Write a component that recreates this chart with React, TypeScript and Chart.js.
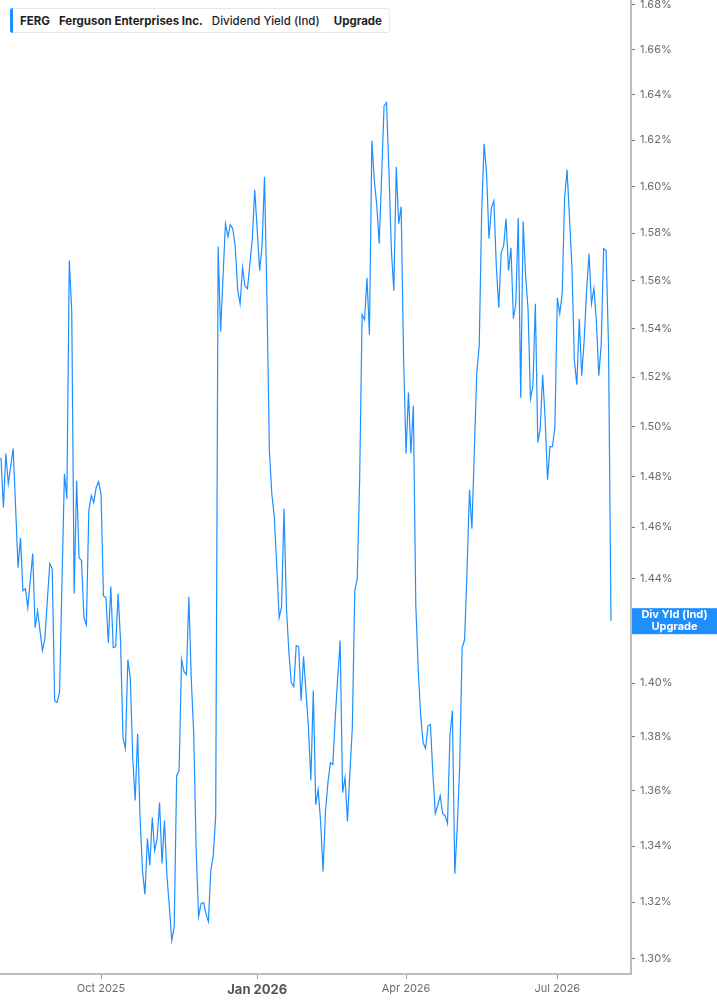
import React, { useEffect, useRef } from 'react';
import { Chart, registerables } from 'chart.js';

Chart.register(...registerables);

// Ferguson Enterprises (FERG) – Dividend Yield (Ind), in %, one value per trading day
const yieldValues: number[] = [
  1.4874, 1.4676, 1.4891, 1.4771, 1.4842, 1.4911, 1.4676, 1.4441, 1.4558, 1.4352,
  1.4360, 1.4287, 1.4391, 1.4496, 1.4210, 1.4275, 1.4198, 1.4123, 1.4168, 1.4314,
  1.4457, 1.4437, 1.3934, 1.3927, 1.3964, 1.4383, 1.4810, 1.4712, 1.5684, 1.5474,
  1.4341, 1.4783, 1.4480, 1.4469, 1.4248, 1.4221, 1.4664, 1.4724, 1.4696, 1.4755,
  1.4779, 1.4731, 1.4333, 1.4325, 1.4153, 1.4368, 1.4134, 1.4138, 1.4341, 1.4161,
  1.3796, 1.3756, 1.4089, 1.4020, 1.3723, 1.3565, 1.3811, 1.3503, 1.3312, 1.3227,
  1.3427, 1.3330, 1.3503, 1.3384, 1.3427, 1.3558, 1.3337, 1.3492, 1.3294, 1.3184,
  1.3064, 1.3113, 1.3656, 1.3675, 1.4089, 1.4043, 1.4032, 1.4329, 1.4013, 1.3808,
  1.3384, 1.3149, 1.3194, 1.3198, 1.3159, 1.3131, 1.3312, 1.3366, 1.3510, 1.5743,
  1.5387, 1.5616, 1.5840, 1.5785, 1.5836, 1.5819, 1.5743, 1.5562, 1.5503, 1.5654,
  1.5578, 1.5566, 1.5667, 1.5776, 1.5985, 1.5815, 1.5641, 1.5747, 1.6041, 1.5524,
  1.4903, 1.4731, 1.4641, 1.4453, 1.4248, 1.4291, 1.4672, 1.4283, 1.4115, 1.4001,
  1.3987, 1.4142, 1.4138, 1.3934, 1.4100, 1.3968, 1.3834, 1.3638, 1.3972, 1.3550,
  1.3605, 1.3489, 1.3309, 1.3525, 1.3631, 1.3704, 1.3697, 1.3871, 1.4020, 1.4161,
  1.3594, 1.3649, 1.3489, 1.3668, 1.3834, 1.4352, 1.4398, 1.4791, 1.5457, 1.5437,
  1.5612, 1.5374, 1.6197, 1.6024, 1.5921, 1.5755, 1.6045, 1.6350, 1.6364, 1.6067,
  1.5726, 1.5557, 1.6084, 1.5840, 1.5913, 1.5280, 1.4891, 1.5137, 1.4891, 1.5084,
  1.4298, 1.4051, 1.3878, 1.3778, 1.3756, 1.3841, 1.3845, 1.3664, 1.3518, 1.3547,
  1.3583, 1.3518, 1.3510, 1.3481, 1.3804, 1.3897, 1.3301, 1.3470, 1.3693, 1.4134,
  1.4164, 1.4426, 1.4747, 1.4593, 1.4903, 1.5218, 1.5329, 1.5887, 1.6184, 1.6058,
  1.5776, 1.5908, 1.5938, 1.5662, 1.5487, 1.5717, 1.5747, 1.5862, 1.5641, 1.5738,
  1.5441, 1.5503, 1.5866, 1.5116, 1.5849, 1.5620, 1.5482, 1.5112, 1.5165, 1.5503,
  1.4935, 1.4991, 1.5210, 1.5031, 1.4787, 1.4919, 1.4919, 1.4995, 1.5528, 1.5462,
  1.5545, 1.5951, 1.6071, 1.5866, 1.5654, 1.5267, 1.5169, 1.5441, 1.5206, 1.5350,
  1.5557, 1.5713, 1.5503, 1.5566, 1.5432, 1.5206, 1.5337, 1.5734, 1.5726, 1.5321,
  1.4237,
];

// trading-day index of each value (Aug 4 2025 = 0)
const dayIndex: number[] = yieldValues.map((_, i) => i);

// x-axis: trading-day index of first session of each labelled month
const tickIndices: number[] = [41, 105, 166, 228];
const tickLabels: string[] = ['Oct 2025', 'Jan 2026', 'Apr 2026', 'Jul 2026'];

// y-axis ticks (%)
const yTicks: number[] = [
  1.30, 1.32, 1.34, 1.36, 1.38, 1.40, 1.42, 1.44, 1.46, 1.48,
  1.50, 1.52, 1.54, 1.56, 1.58, 1.60, 1.62, 1.64, 1.66, 1.68,
];

const LINE_COLOR = '#1e8fff';
const AXIS_COLOR = '#bdbdbd';
const FONT = 'Inter, "Noto Sans", sans-serif';

const lastLabelPlugin = {
  id: 'lastLabel',
  afterDraw(chart: any) {
    const { ctx, chartArea, scales } = chart;
    const last = yieldValues[yieldValues.length - 1];
    const y = scales.y.getPixelForValue(last);
    const x0 = chartArea.right + 1;
    const w = chart.width - x0;
    ctx.save();
    ctx.fillStyle = LINE_COLOR;
    ctx.fillRect(x0, y - 12.5, w, 26);
    ctx.fillStyle = '#ffffff';
    ctx.font = `bold 11px ${FONT}`;
    ctx.textAlign = 'center';
    ctx.textBaseline = 'middle';
    ctx.fillText('Div Yld (Ind)', x0 + w / 2, y - 5.5);
    ctx.fillText('Upgrade', x0 + w / 2, y + 6.5);
    ctx.restore();
  },
};

function YieldChart() {
  const canvasRef = useRef<HTMLCanvasElement | null>(null);

  useEffect(() => {
    if (!canvasRef.current) return;
    const chart = new Chart(canvasRef.current, {
      type: 'line',
      data: {
        labels: dayIndex,
        datasets: [
          {
            data: yieldValues,
            borderColor: LINE_COLOR,
            borderWidth: 1.2,
            pointRadius: 0,
            tension: 0,
            fill: false,
          },
        ],
      },
      options: {
        animation: false,
        responsive: false,
        layout: { padding: 0 },
        plugins: { legend: { display: false }, tooltip: { enabled: false } },
        scales: {
          x: {
            type: 'linear',
            position: 'bottom',
            min: -0.4,
            max: 258.2,
            bounds: 'data',
            grid: {
              drawOnChartArea: false,
              drawTicks: true,
              tickLength: 5,
              tickColor: '#9a9a9a',
              tickWidth: 1,
            },
            border: { display: true, color: AXIS_COLOR, width: 2 },
            afterBuildTicks: (s: any) => {
              s.ticks = tickIndices.map((v) => ({ value: v }));
            },
            afterFit: (s: any) => {
              s.height = 31;
              s.paddingLeft = 0;
              s.paddingRight = 0;
            },
            ticks: {
              autoSkip: false,
              maxRotation: 0,
              padding: 3,
              callback: (v: any) => {
                const k = tickIndices.indexOf(Number(v));
                return k >= 0 ? tickLabels[k] : '';
              },
              color: (c: any) => (c.index === 1 ? '#555555' : '#6b6b6b'),
              font: (c: any) =>
                c.index === 1
                  ? { family: FONT, size: 13, weight: 'bold' }
                  : { family: FONT, size: 11, weight: 'normal' },
            },
          },
          y: {
            type: 'logarithmic',
            position: 'right',
            min: 1.2947,
            max: 1.6822,
            bounds: 'data',
            grid: {
              drawOnChartArea: false,
              drawTicks: true,
              tickLength: 4,
              tickColor: '#777777',
              tickWidth: 1,
            },
            border: { display: true, color: AXIS_COLOR, width: 2 },
            afterBuildTicks: (s: any) => {
              s.ticks = yTicks.map((v) => ({ value: v }));
            },
            afterFit: (s: any) => {
              s.width = 86;
              s.paddingTop = 0;
              s.paddingBottom = 0;
            },
            ticks: {
              padding: 5,
              autoSkip: false,
              color: '#6b6b6b',
              font: { family: FONT, size: 11 },
              callback: (v: any) => Number(v).toFixed(2) + '%',
            },
          },
        },
      },
      plugins: [lastLabelPlugin],
    } as any);
    return () => chart.destroy();
  }, []);

  return <canvas ref={canvasRef} width={717} height={1005} style={{ display: 'block' }} />;
}

export default function App() {
  return (
    <div
      style={{
        position: 'absolute',
        left: 0,
        top: 0,
        width: 717,
        height: 1005,
        background: '#ffffff',
        overflow: 'hidden',
      }}
    >
      <YieldChart />
      <div
        style={{
          position: 'absolute',
          left: 10,
          top: 8,
          height: 25,
          boxSizing: 'border-box',
          display: 'flex',
          alignItems: 'center',
          background: '#ffffff',
          border: '1px solid #e8e8e8',
          borderRadius: 3,
          paddingLeft: 9,
          paddingRight: 7,
          fontFamily: FONT,
          fontSize: 11.5,
          color: '#1f1f1f',
          whiteSpace: 'nowrap',
        }}
      >
        <div
          style={{
            position: 'absolute',
            left: -1,
            top: -1,
            bottom: -1,
            width: 3,
            background: LINE_COLOR,
            borderRadius: '3px 0 0 3px',
          }}
        />
        <span style={{ fontWeight: 700, marginRight: 9 }}>FERG</span>
        <span style={{ fontWeight: 700, marginRight: 9 }}>Ferguson Enterprises Inc.</span>
        <span style={{ fontWeight: 500, marginRight: 14 }}>Dividend Yield (Ind)</span>
        <span style={{ fontWeight: 700 }}>Upgrade</span>
      </div>
    </div>
  );
}
